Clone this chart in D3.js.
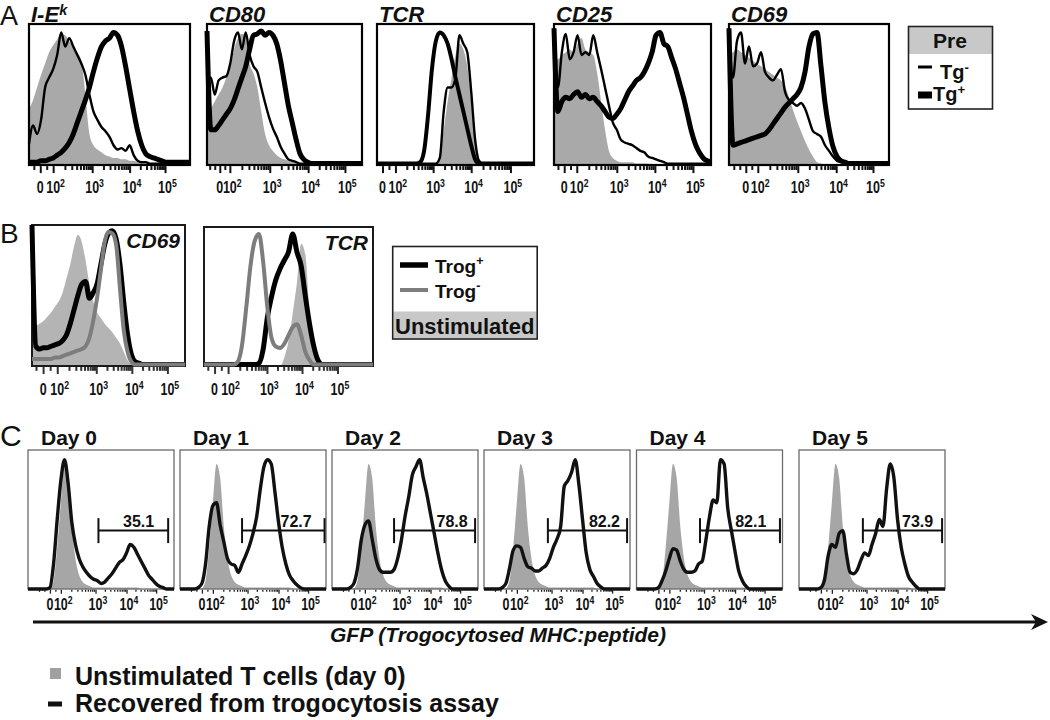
<!DOCTYPE html>
<html>
<head>
<meta charset="utf-8">
<script src="https://cdn.jsdelivr.net/npm/d3@7"></script>
<style>
  body { margin: 0; background: #fff; }
  svg text { font-family: "Liberation Sans", Arial, Helvetica, sans-serif; fill: #111; }
</style>
</head>
<body>
<svg id="fig" width="1050" height="720"></svg>
<script>
// ------------------------------------------------------------------ Data
// every histogram is read on the same 41-bin channel grid (0 = left edge of plot),
// heights are % of plot height
var channels = d3.range(41);

var tickBase = ['0', '10', '10', '10', '10'];
var tickExp  = ['', '2', '3', '4', '5'];

// Panel A: Pre-sort, thin = Tg-, thick = Tg+, gray = reference
var aMarkers = ['I-E', 'CD80', 'TCR', 'CD25', 'CD69'];
var ieGray   = [40,46,55,64,72,80,85,89,93,92,88,84,80,74,50,22,14,11,9,7,6,5,5,4,4,3,3,2,1,0,0,0,0,0,0,0,0,0,0,0,0];
var ieTgNeg  = [15,28,22,32,55,62,68,78,94,84,90,84,78,72,64,50,38,32,27,24,20,14,11,12,10,14,7,3,2,2,1,1,1,1,1,1,1,1,1,1,1];
var ieTgPos  = [2,2,2,3,3,4,5,7,9,12,16,22,30,38,46,55,66,76,84,88,90,94,92,84,70,54,38,24,14,8,6,5,4,3,2,2,2,2,2,2,2];
var cd80Gray  = [35,40,45,50,55,62,70,82,90,93,90,72,65,55,38,22,14,10,7,5,4,3,2,1,0,0,0,0,0,0,0,0,0,0,0,0,0,0,0,0,0];
var cd80TgNeg = [60,62,50,60,62,63,72,88,94,82,94,78,70,66,55,44,34,26,20,13,8,4,3,2,1,1,1,1,1,1,1,1,1,1,1,1,1,1,1,1,1];
var cd80TgPos = [95,25,25,28,32,36,40,46,54,62,70,82,92,93,95,92,94,92,86,74,58,42,30,18,8,4,2,1,1,1,1,1,1,1,1,1,1,1,1,1,1];
var tcrGray  = [0,0,0,0,0,0,0,0,0,0,0,0,0,0,0,1,6,25,45,62,78,86,82,70,45,15,3,0,0,0,0,0,0,0,0,0,0,0,0,0,0];
var tcrTgNeg = [1,1,1,1,1,1,1,1,1,1,1,1,1,1,1,1,5,38,55,55,62,92,86,80,52,18,3,1,1,1,1,1,1,1,1,1,1,1,1,1,1];
var tcrTgPos = [1,1,1,1,1,1,1,1,1,1,1,2,10,35,68,88,94,92,86,75,62,50,38,26,14,4,1,1,1,1,1,1,1,1,1,1,1,1,1,1,1];
var cd25Gray  = [85,75,78,80,82,80,86,90,82,80,78,65,45,25,10,5,3,2,2,2,2,1,1,1,1,0,0,0,0,0,0,0,0,0,0,0,0,0,0,0,0];
var cd25TgNeg = [97,55,80,93,75,80,92,78,80,78,92,80,68,55,42,30,25,18,16,15,14,12,10,9,6,5,4,3,2,1,1,1,1,1,1,1,1,1,1,1,1];
var cd25TgPos = [97,38,45,48,47,50,52,48,50,47,48,45,42,38,34,33,36,40,46,52,56,60,62,66,72,80,92,94,86,84,76,68,58,48,36,24,15,9,5,3,2];
var cd69Gray  = [78,80,82,80,78,76,74,72,70,68,66,64,62,60,56,48,39,31,24,17,11,6,2,1,0,0,0,0,0,0,0,0,0,0,0,0,0,0,0,0,0];
var cd69TgNeg = [97,62,88,94,72,84,70,72,80,66,62,60,64,68,52,46,44,42,44,40,32,24,22,20,14,10,6,3,2,1,1,1,1,1,1,1,1,1,1,1,1];
var cd69TgPos = [97,14,15,16,17,18,19,20,21,22,25,29,33,37,41,44,47,50,55,66,84,93,94,70,44,26,13,6,3,2,1,1,1,1,1,1,1,1,1,1,1];
var aTicks = [[2.8,6.0,15.7,25,33.8],[3.3,5.9,16.2,26.1,35.6],[1.4,4.7,14.3,24,34],[2.6,5.8,16,25.7,35.4],[4.2,7.2,17.2,26.8,36]];

// Panel B: Trog+ (black), Trog- (gray line), unstimulated (gray fill)
var bMarkers = ['CD69', 'TCR'];
var bCd69Gray = [22,28,30,32,35,38,42,46,52,62,72,85,93,88,75,58,46,38,34,30,27,24,20,16,10,4,1,0,0,0,0,0,0,0,0,0,0,0,0,0,0];
var bCd69Pos  = [100,14,12,13,13,14,15,16,18,22,30,40,50,58,60,48,52,58,72,86,94,96,90,72,45,22,8,3,2,1,1,1,1,1,1,1,1,1,1,1,1];
var bCd69Neg  = [5,5,5,5,5,5,6,6,7,8,9,10,11,12,14,20,32,48,68,88,95,94,86,55,25,10,3,1,1,1,1,1,1,1,1,1,1,1,1,1,1];
var bTcrGray  = [0,0,0,0,0,0,0,0,0,0,0,0,0,0,0,0,0,0,0,6,18,38,60,88,80,38,10,2,0,0,0,0,0,0,0,0,0,0,0,0,0];
var bTcrPos   = [1,1,1,1,1,1,1,1,1,1,1,1,1,2,12,35,50,62,70,76,82,95,82,72,50,30,14,4,1,1,1,1,1,1,1,1,1,1,1,1,1];
var bTcrNeg   = [1,1,1,1,1,1,1,1,3,15,42,72,90,95,75,42,20,14,13,16,22,28,30,22,10,4,1,1,1,1,1,1,1,1,1,1,1,1,1,1,1];
var bTicks = [[2.9,6.6,16.8,26.1,35.4],[2.5,5.7,14.9,23.2,31.6]];

// Panel C: GFP over days
var days = ['Day 0', 'Day 1', 'Day 2', 'Day 3', 'Day 4', 'Day 5'];
var cUnstim = [0,0,0,0,0,0,0.5,6,30,62,90,80,45,22,10,5,3,2,1,1,1,1,1,1,1,1,1,1,1,1,1,0,0,0,0,0,0,0,0,0,0];
var day0 = [0,0,0,0,0,0,1,18,50,78,93,76,48,32,22,16,12,9,7,6,4,5,8,11,15,19,21,26,32,30,25,20,15,10,7,4,2,1,0,0,0];
var day1 = [0,0,0,0,0,1,4,18,45,60,62,46,34,22,18,17,12,18,24,31,40,52,72,88,93,90,70,48,30,18,10,6,3,1,0,0,0,0,0,0,0];
var day2 = [0,0,0,0,0,1,4,15,35,46,49,36,22,14,12,12,12,14,22,35,52,66,82,88,93,80,68,54,40,26,14,6,2,0,0,0,0,0,0,0,0];
var day3 = [0,0,0,0,0,1,4,15,28,31,30,22,16,15,13,13,15,17,22,30,36,45,74,78,84,93,75,50,26,14,9,4,1.5,0,0,0,0,0,0,0,0];
var day4 = [0,0,0,0,0,0,1,6,13,22,29,28,20,14,12,12,13,18,20,35,52,64,62,93,90,58,42,27,13,6,2,0,0,0,0,0,0,0,0,0,0];
var day5 = [0,0,0,0,0,0,1,7,24,32,30,40,42,25,12,11,14,21,26,24,32,40,50,45,72,90,80,50,30,18,9,5,2,0,0,0,0,0,0,0,0];
var cTicks = [6, 9, 18.5, 27, 35.1];
var gatePct   = ['35.1', '72.7', '78.8', '82.2', '82.1', '73.9'];
var gateStart = [19.3, 17, 17, 17.5, 17.4, 17.5];
var gateEnd   = [38.4, 39.6, 39.2, 39.2, 39.3, 39.2];
var gateText  = [30.3, 31.8, 32.9, 33, 31.3, 32.5];
var gateLevel = 42;

// ------------------------------------------------------------------ Drawing
var svg = d3.select('#fig');

function drawPlot(p) {
  var g = svg.append('g');
  var x = d3.scaleLinear().domain([0, 40]).range([p.x, p.x + p.w]);
  var y = d3.scaleLinear().domain([0, 100]).range([p.y + p.h, p.y]);

  var area = d3.area()
      .x(function(d, i) { return x(channels[i]); })
      .y0(y(0))
      .y1(function(d) { return y(d); })
      .curve(d3.curveMonotoneX);
  var line = d3.line()
      .x(function(d, i) { return x(channels[i]); })
      .y(function(d) { return y(d); })
      .curve(d3.curveMonotoneX);

  p.fills.forEach(function(s) {
    g.append('path').datum(s.values).attr('d', area).attr('fill', s.color);
  });

  g.append('rect')
      .attr('x', p.x).attr('y', p.y)
      .attr('width', p.w).attr('height', p.h)
      .attr('fill', 'none')
      .attr('stroke', p.border)
      .attr('stroke-width', p.borderW);

  p.lines.forEach(function(s) {
    g.append('path').datum(s.values)
        .attr('d', line)
        .attr('fill', 'none')
        .attr('stroke', s.color)
        .attr('stroke-width', s.width)
        .attr('stroke-linejoin', 'round');
  });

  // logicle-like axis: majors at the decades, minors in between
  var major = p.ticks;
  var minor = [];
  var lin = major[1] - major[0];
  [major[0] - lin, major[0] - lin / 2, major[0] + lin / 2].forEach(function(c) { if (c > 0) minor.push(c); });
  for (var k = 1; k < 4; k++) {
    for (var m = 2; m < 10; m++) minor.push(major[k] + (major[k + 1] - major[k]) * Math.log10(m));
  }

  var axisY = p.y + p.h + p.borderW / 2;
  [[major, p.tickLen], [minor, p.tickLen * 0.55]].forEach(function(set) {
    var a = g.append('g')
        .attr('transform', 'translate(0,' + axisY + ')')
        .call(d3.axisBottom(x).tickValues(set[0]).tickSize(set[1]).tickSizeOuter(0).tickFormat(''));
    a.select('.domain').remove();
    a.selectAll('line').attr('stroke', p.tickColor).attr('stroke-width', p.tickW);
  });

  // tick labels: narrow bold face, "10" centred on the tick, exponent raised
  var fs = p.labelSize;
  major.forEach(function(c, k) {
    var holder = g.append('g')
        .attr('transform', 'translate(' + x(c) + ',' + p.labelY + ') scale(0.78,1)');
    var t = holder.append('text').attr('font-weight', 'bold').attr('font-size', fs);
    if (tickExp[k] === '') {
      t.attr('text-anchor', 'middle').text(tickBase[k]);
    } else {
      t.attr('x', -fs * 0.556).text(tickBase[k]);
      t.append('tspan')
          .attr('dy', -fs * 0.4)
          .attr('font-size', fs * 0.7)
          .text(tickExp[k]);
    }
  });
  return {g: g, x: x, y: y};
}

function supText(parent, x, y, size, base, sup, opts) {
  var t = parent.append('text')
      .attr('x', x).attr('y', y)
      .attr('font-size', size)
      .attr('font-weight', 'bold');
  if (opts && opts.italic) t.attr('font-style', 'italic');
  if (opts && opts.anchor) t.attr('text-anchor', opts.anchor);
  t.append('tspan').text(base);
  if (sup) t.append('tspan').attr('dy', -size * (opts && opts.raise || 0.42)).attr('font-size', size * 0.66).text(sup);
  return t;
}

// --------------------------------------------------------- Panel A
var aLayout = [{x: 29, w: 161}, {x: 207, w: 155}, {x: 377, w: 157}, {x: 554, w: 157}, {x: 729, w: 160}];
var aSeries = [
  [ieGray, ieTgNeg, ieTgPos], [cd80Gray, cd80TgNeg, cd80TgPos], [tcrGray, tcrTgNeg, tcrTgPos],
  [cd25Gray, cd25TgNeg, cd25TgPos], [cd69Gray, cd69TgNeg, cd69TgPos]
];
svg.append('text').attr('x', 0).attr('y', 25).attr('font-size', 27).text('A');

aMarkers.forEach(function(name, i) {
  var s = aSeries[i];
  drawPlot({
    x: aLayout[i].x, y: 24, w: aLayout[i].w, h: 141,
    fills: [{values: s[0], color: '#a9a9a9'}],
    lines: [{values: s[1], color: '#000', width: 2.4}, {values: s[2], color: '#000', width: i === 2 ? 4 : 5}],
    border: '#000', borderW: 2.2,
    ticks: aTicks[i], tickLen: 7, tickW: 2, tickColor: '#111',
    labelSize: 16, labelY: 193
  });
  supText(svg, aLayout[i].x + 2, 22, 22, name, i === 0 ? 'k' : '', {italic: true, raise: 0.3});
});

// legend A
var legA = svg.append('g');
legA.append('rect').attr('x', 909).attr('y', 27).attr('width', 83).attr('height', 27).attr('fill', '#c8c8c8');
legA.append('rect').attr('x', 908.5).attr('y', 26.5).attr('width', 84).attr('height', 82.5)
    .attr('fill', 'none').attr('stroke', '#222').attr('stroke-width', 1.6);
legA.append('text').attr('x', 950).attr('y', 48).attr('text-anchor', 'middle')
    .attr('font-size', 21).attr('font-weight', 'bold').text('Pre');
legA.append('line').attr('x1', 918).attr('x2', 932).attr('y1', 67).attr('y2', 67)
    .attr('stroke', '#000').attr('stroke-width', 3);
supText(legA, 940, 79, 20, 'Tg', '-', {raise: 0.35});
legA.append('line').attr('x1', 918).attr('x2', 932).attr('y1', 95).attr('y2', 95)
    .attr('stroke', '#000').attr('stroke-width', 7);
supText(legA, 933, 101, 20, 'Tg', '+', {raise: 0.35});

// --------------------------------------------------------- Panel B
var bLayout = [{x: 32, y: 225, w: 153, h: 141}, {x: 204, y: 227, w: 169, h: 139}];
var bSeries = [[bCd69Gray, bCd69Pos, bCd69Neg], [bTcrGray, bTcrPos, bTcrNeg]];
svg.append('text').attr('x', 0).attr('y', 243).attr('font-size', 28).text('B');

bMarkers.forEach(function(name, i) {
  var L = bLayout[i], s = bSeries[i];
  drawPlot({
    x: L.x, y: L.y, w: L.w, h: L.h,
    fills: [{values: s[0], color: '#b4b4b4'}],
    lines: [{values: s[1], color: '#000', width: 5}, {values: s[2], color: '#7d7d7d', width: 4}],
    border: '#1a1a1a', borderW: 2,
    ticks: bTicks[i], tickLen: 7, tickW: 2, tickColor: '#333',
    labelSize: 16, labelY: 395
  });
  svg.append('text').attr('x', L.x + L.w - 5).attr('y', L.y + 23)
      .attr('text-anchor', 'end').attr('font-size', 21)
      .attr('font-weight', 'bold').attr('font-style', 'italic').text(name);
});

// legend B
var legB = svg.append('g');
legB.append('rect').attr('x', 393.5).attr('y', 311.5).attr('width', 143).attr('height', 27).attr('fill', '#c8c8c8');
legB.append('rect').attr('x', 392.7).attr('y', 246.5).attr('width', 144.5).attr('height', 92.5)
    .attr('fill', 'none').attr('stroke', '#222').attr('stroke-width', 1.6);
legB.append('line').attr('x1', 400).attr('x2', 428).attr('y1', 265).attr('y2', 265)
    .attr('stroke', '#000').attr('stroke-width', 5.5);
supText(legB, 435, 273, 19, 'Trog', '+');
legB.append('line').attr('x1', 400).attr('x2', 428).attr('y1', 290).attr('y2', 290)
    .attr('stroke', '#7d7d7d').attr('stroke-width', 4);
supText(legB, 435, 298, 19, 'Trog', '-');
legB.append('text').attr('x', 395).attr('y', 334).attr('font-size', 22)
    .attr('font-weight', 'bold').text('Unstimulated');

// --------------------------------------------------------- Panel C
var cLefts = [28, 180, 332, 484, 636.5, 799];
var cSeries = [day0, day1, day2, day3, day4, day5];
svg.append('text').attr('x', 0).attr('y', 446).attr('font-size', 30).text('C');

days.forEach(function(name, i) {
  var plot = drawPlot({
    x: cLefts[i], y: 450, w: 146, h: 139,
    fills: [{values: cUnstim, color: '#a6a6a6'}],
    lines: [{values: cSeries[i], color: '#111', width: 3.4}],
    border: '#6a6a6a', borderW: 1.3,
    ticks: cTicks, tickLen: 4, tickW: 1.3, tickColor: '#222',
    labelSize: 16, labelY: 610
  });
  svg.append('text').attr('x', cLefts[i] + 13).attr('y', 445)
      .attr('font-size', 21).attr('font-weight', 'bold').text(name);

  var gy = plot.y(gateLevel);
  var gate = plot.g.append('g').attr('stroke', '#111').attr('stroke-width', 2);
  gate.append('line').attr('x1', plot.x(gateStart[i])).attr('x2', plot.x(gateEnd[i])).attr('y1', gy).attr('y2', gy);
  gate.append('line').attr('x1', plot.x(gateStart[i])).attr('x2', plot.x(gateStart[i])).attr('y1', gy - 12.5).attr('y2', gy + 12.5);
  gate.append('line').attr('x1', plot.x(gateEnd[i])).attr('x2', plot.x(gateEnd[i])).attr('y1', gy - 12.5).attr('y2', gy + 12.5);
  plot.g.append('text').attr('x', plot.x(gateText[i])).attr('y', gy - 4)
      .attr('text-anchor', 'middle').attr('font-size', 16).attr('font-weight', 'bold')
      .text(gatePct[i]);
});

// long GFP arrow
svg.append('line').attr('x1', 33).attr('x2', 1038).attr('y1', 622).attr('y2', 622)
    .attr('stroke', '#111').attr('stroke-width', 3);
svg.append('path').attr('d', 'M1048,622 L1031,614 L1036,622 L1031,630 Z').attr('fill', '#111');
svg.append('text').attr('x', 498).attr('y', 642).attr('text-anchor', 'middle')
    .attr('font-size', 21).attr('font-weight', 'bold').attr('font-style', 'italic')
    .text('GFP (Trogocytosed MHC:peptide)');

// legend C
svg.append('rect').attr('x', 50).attr('y', 668).attr('width', 11).attr('height', 11).attr('fill', '#a0a0a0');
svg.append('text').attr('x', 75).attr('y', 685).attr('font-size', 25).attr('font-weight', 'bold')
    .text('Unstimulated T cells (day 0)');
svg.append('line').attr('x1', 48).attr('x2', 62).attr('y1', 704).attr('y2', 704)
    .attr('stroke', '#111').attr('stroke-width', 5);
svg.append('text').attr('x', 75).attr('y', 712).attr('font-size', 25).attr('font-weight', 'bold')
    .text('Recovered from trogocytosis assay');
</script>
</body>
</html>
